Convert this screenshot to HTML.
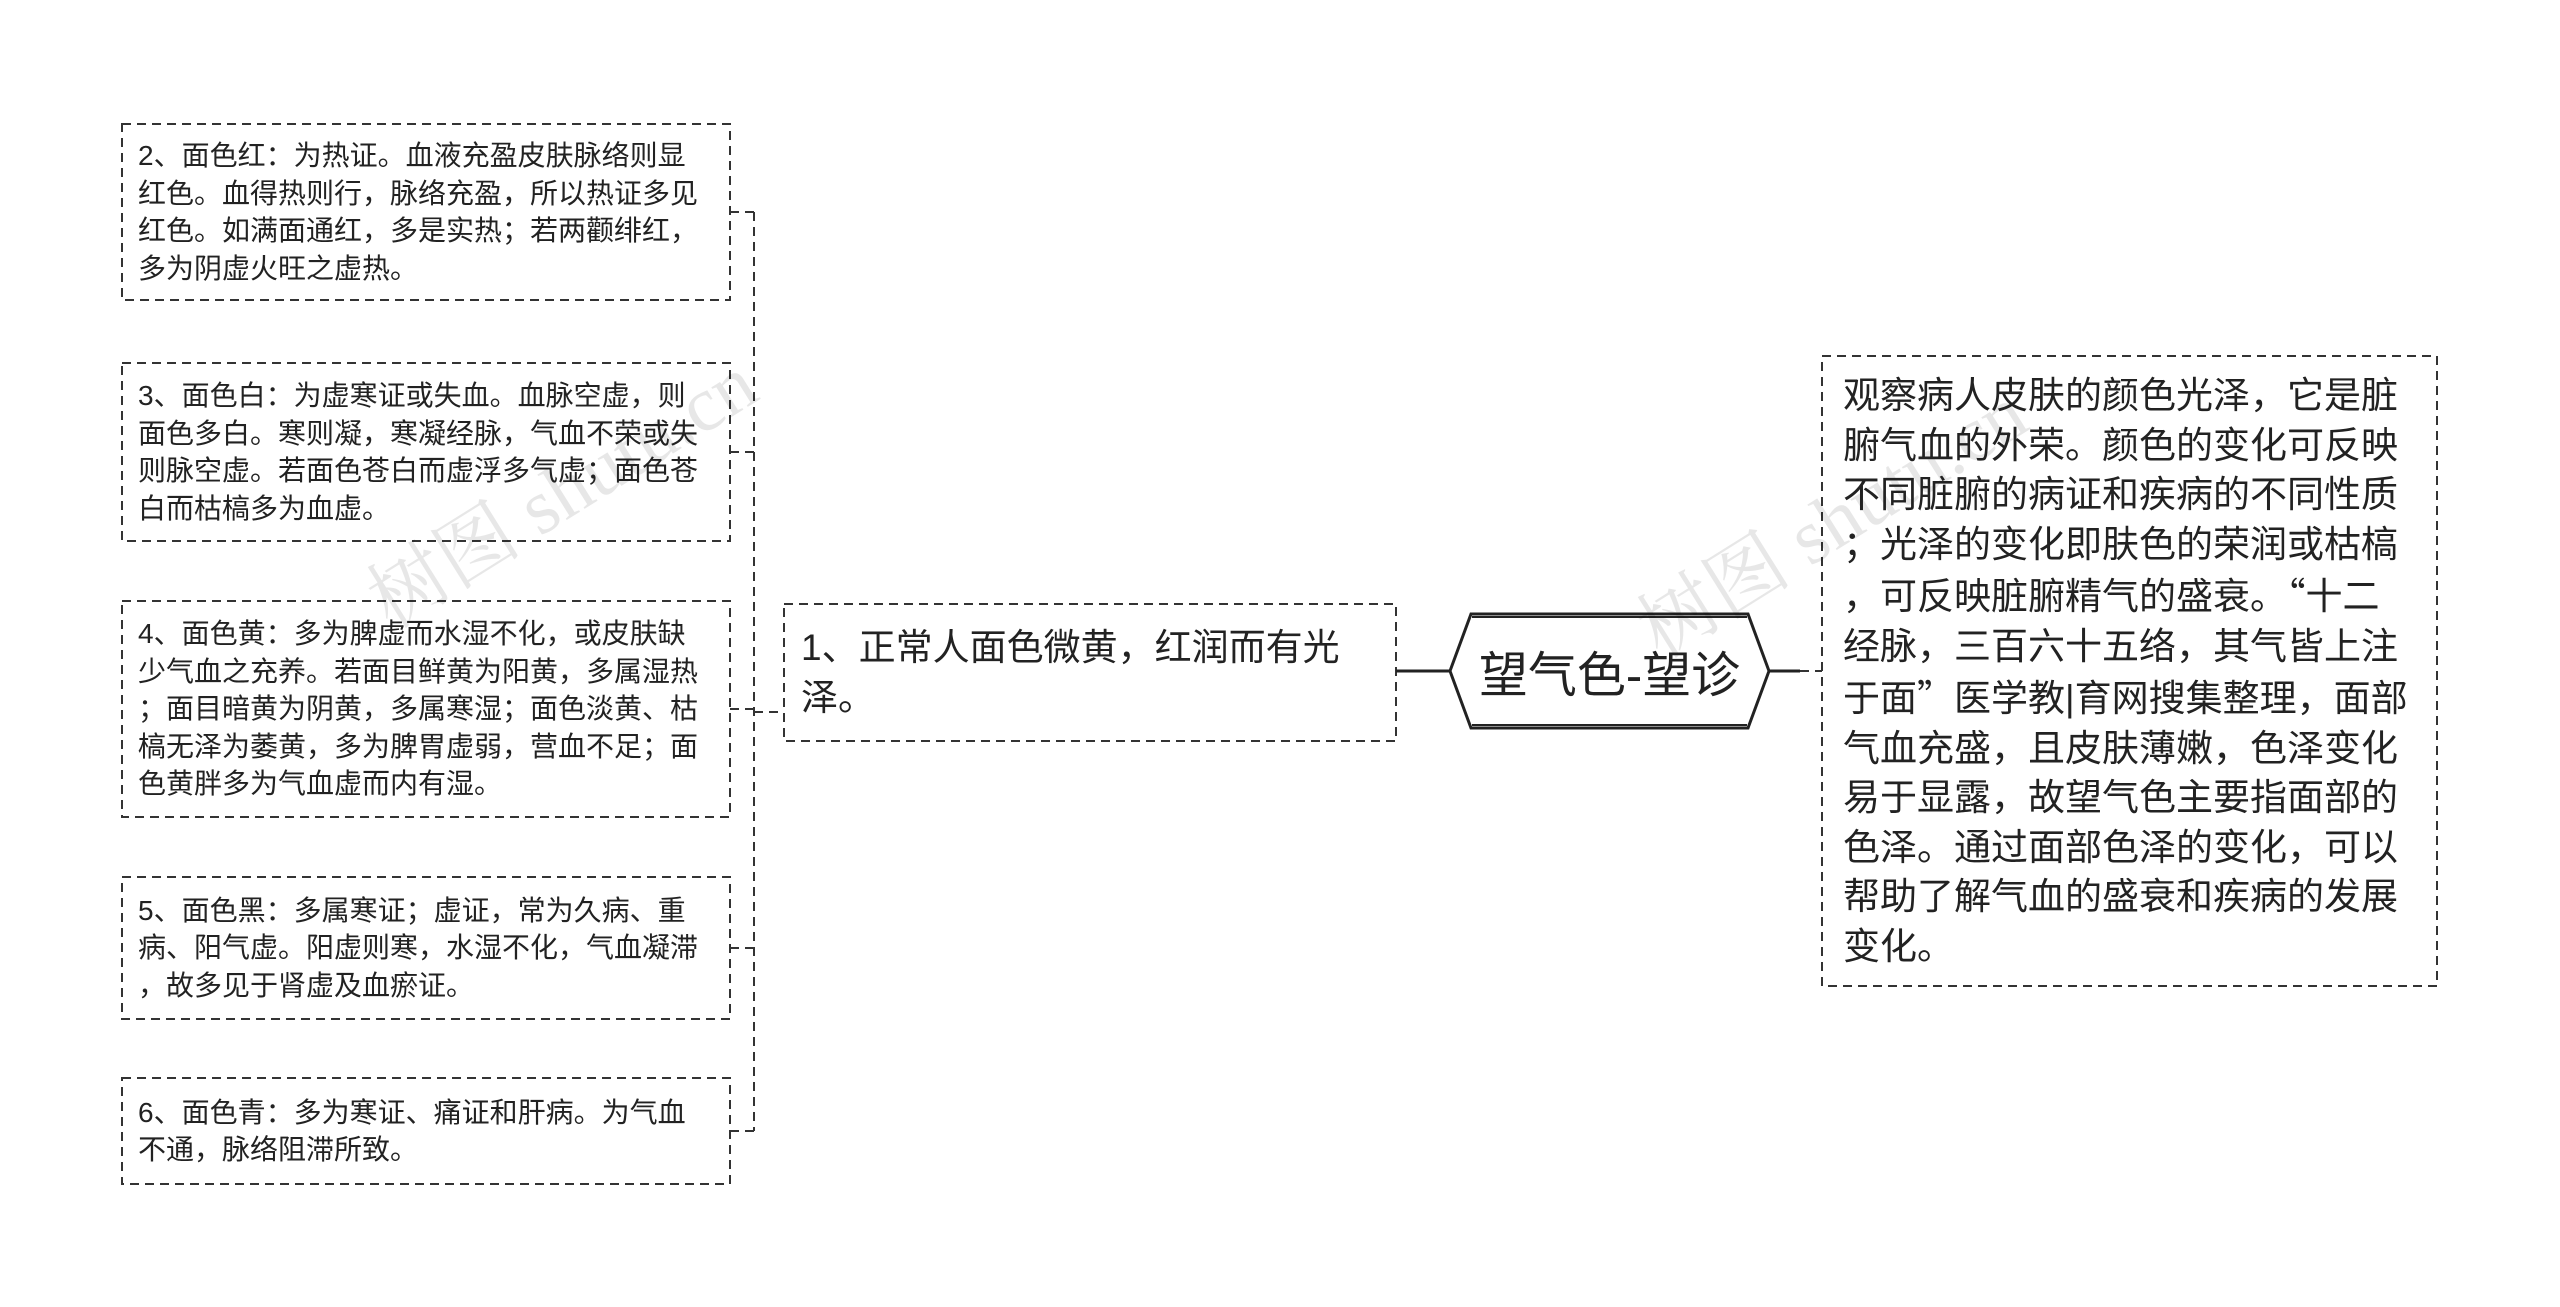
<!DOCTYPE html>
<html><head><meta charset="utf-8"><style>
html,body{margin:0;padding:0;background:#fff;}
body{width:2560px;height:1307px;position:relative;overflow:hidden;font-family:"Liberation Sans","Noto Sans CJK SC",sans-serif;color:#222;}
.t{position:absolute;display:flex;flex-direction:column;justify-content:center;white-space:nowrap;}
.s{font-size:28px;line-height:37.5px;}
.b{font-size:37px;line-height:49.5px;}
.q{font-family:"Noto Sans CJK SC",sans-serif;}
.wm{position:absolute;font-size:78px;color:#000;opacity:0.09;transform:rotate(-32deg);white-space:nowrap;font-family:"Liberation Serif","Noto Serif CJK SC",serif;}
</style></head><body>
<svg width="2560" height="1307" style="position:absolute;left:0;top:0">
<g fill="none" stroke="#333" stroke-width="2" stroke-dasharray="9 6">
<rect x="122" y="124" width="608" height="176"/>
<rect x="122" y="363" width="608" height="178"/>
<rect x="122" y="601" width="608" height="216"/>
<rect x="122" y="877" width="608" height="142"/>
<rect x="122" y="1078" width="608" height="106"/>
<rect x="784" y="604" width="612" height="137"/>
<rect x="1822" y="356" width="615" height="630"/>
<path d="M730 212H754M730 452H754M730 709H754M730 948H754M730 1131H754M754 212V1131M754 712H784"/>
<path d="M1800 671H1822"/>
</g>
<g stroke="#222" stroke-width="3" fill="none">
<path d="M1396 671H1450M1769 671H1800"/>
<polygon points="1450,671 1471,614 1748,614 1769,671 1748,728 1471,728" fill="#fff"/>
<path d="M1472 617H1747M1472 725H1747" stroke-width="2"/>
</g>
</svg>
<div class="wm" style="left:340px;top:430px;">树图 shutu.cn</div>
<div class="wm" style="left:1610px;top:460px;">树图 shutu.cn</div>
<div class="t s" style="left:138px;top:124px;height:176px;"><div>2、面色红：为热证。血液充盈皮肤脉络则显<br>红色。血得热则行，脉络充盈，所以热证多见<br>红色。如满面通红，多是实热；若两颧绯红，<br>多为阴虚火旺之虚热。</div></div>
<div class="t s" style="left:138px;top:363px;height:178px;"><div>3、面色白：为虚寒证或失血。血脉空虚，则<br>面色多白。寒则凝，寒凝经脉，气血不荣或失<br>则脉空虚。若面色苍白而虚浮多气虚；面色苍<br>白而枯槁多为血虚。</div></div>
<div class="t s" style="left:138px;top:601px;height:216px;"><div>4、面色黄：多为脾虚而水湿不化，或皮肤缺<br>少气血之充养。若面目鲜黄为阳黄，多属湿热<br>；面目暗黄为阴黄，多属寒湿；面色淡黄、枯<br>槁无泽为萎黄，多为脾胃虚弱，营血不足；面<br>色黄胖多为气血虚而内有湿。</div></div>
<div class="t s" style="left:138px;top:877px;height:142px;"><div>5、面色黑：多属寒证；虚证，常为久病、重<br>病、阳气虚。阳虚则寒，水湿不化，气血凝滞<br>，故多见于肾虚及血瘀证。</div></div>
<div class="t s" style="left:138px;top:1078px;height:106px;"><div>6、面色青：多为寒证、痛证和肝病。为气血<br>不通，脉络阻滞所致。</div></div>
<div class="t b" style="left:801px;top:604px;height:137px;"><div>1、正常人面色微黄，红润而有光<br>泽。</div></div>
<div class="t" style="left:1450px;top:614px;width:319px;height:114px;align-items:center;font-size:49px;"><div>望气色-望诊</div></div>
<div class="t b" style="left:1843px;top:356px;height:630px;"><div>观察病人皮肤的颜色光泽，它是脏<br>腑气血的外荣。颜色的变化可反映<br>不同脏腑的病证和疾病的不同性质<br>；光泽的变化即肤色的荣润或枯槁<br>，可反映脏腑精气的盛衰。<span class="q">“</span>十二<br>经脉，三百六十五络，其气皆上注<br>于面<span class="q">”</span>医学教|育网搜集整理，面部<br>气血充盛，且皮肤薄嫩，色泽变化<br>易于显露，故望气色主要指面部的<br>色泽。通过面部色泽的变化，可以<br>帮助了解气血的盛衰和疾病的发展<br>变化。</div></div>
</body></html>
